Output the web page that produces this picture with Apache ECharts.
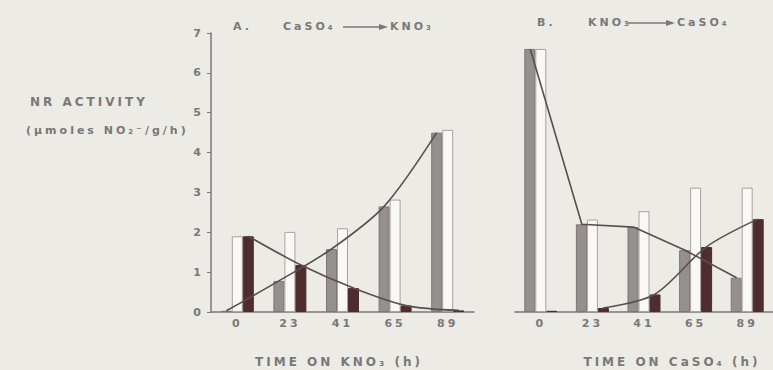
<!DOCTYPE html>
<html><head><meta charset="utf-8">
<script src="https://cdn.jsdelivr.net/npm/echarts@6/dist/echarts.min.js"></script>
<style>
html,body{margin:0;padding:0;background:#ecebe5}
#c{width:773px;height:370px}
#c text{letter-spacing:3px}
</style></head><body><div id="c"></div>
<script>
// ---- data ----
const categories = ['0', '23', '41', '65', '89'];
const yTicks = [0, 1, 2, 3, 4, 5, 6, 7];
// Panel A: CaSO4 -> KNO3
const aGray  = [0.03, 0.78, 1.58, 2.65, 4.50];
const aWhite = [1.90, 2.01, 2.10, 2.82, 4.57];
const aDark  = [1.90, 1.18, 0.60, 0.16, 0.04];
// Panel B: KNO3 -> CaSO4
const bGray  = [6.60, 2.20, 2.13, 1.55, 0.86];
const bWhite = [6.60, 2.32, 2.53, 3.12, 3.12];
const bDark  = [0.03, 0.10, 0.44, 1.63, 2.33];
const bDarkCurveStart = 1;

const titleA = ['A.', 'CaSO₄', 'KNO₃'];
const titleB = ['B.', 'KNO₃', 'CaSO₄'];
const xNameA = 'TIME ON KNO₃ (h)';
const xNameB = 'TIME ON CaSO₄ (h)';
const yName1 = 'NR ACTIVITY';
const yName2 = '(µmoles NO₂⁻/g/h)';

// ---- layout / style ----
const chart = echarts.init(document.getElementById('c'), null, {renderer: 'svg'});
const FONT = 'DejaVu Sans';
const TXT = '#7a7878';
const AX = '#7a7878';
const GRAY = '#958f8e', WHITE = '#f9f8f4', DARK = '#4f2c2e', LINE = '#5a4e4e';
const BW = 11;
const gA = {left: 211, top: 33, width: 263, height: 279};
const gB = {left: 515, top: 33, width: 269, height: 279};
const offA = BW / (gA.width / categories.length);
const offB = BW / (gB.width / categories.length);

function catAxis(gi) {
  return {type: 'category', gridIndex: gi, data: categories,
    axisLine: {show: true, onZero: false, lineStyle: {color: AX, width: 1.5}},
    axisTick: {show: false},
    axisLabel: {color: TXT, fontFamily: FONT, fontSize: 11, fontWeight: 'bold', margin: 6}};
}
function valX(gi) {
  return {type: 'value', gridIndex: gi, min: -0.5, max: categories.length - 0.5, show: false,
    axisLine: {onZero: false}};
}
function barS(name, data, xi, yi, color, border) {
  return {type: 'bar', name, data, xAxisIndex: xi, yAxisIndex: yi, barWidth: BW, barGap: '0%',
    itemStyle: {color, borderColor: border, borderWidth: 1}, z: 2, silent: true};
}
function lineS(vals, off, xi, yi, smooth, start) {
  const pts = [];
  for (let i = start || 0; i < vals.length; i++) pts.push([i + off, vals[i]]);
  return {type: 'line', data: pts, xAxisIndex: xi, yAxisIndex: yi, smooth, showSymbol: false,
    lineStyle: {color: LINE, width: 1.6}, z: 5, silent: true};
}
function txt(x, y, s, align, size) {
  return {type: 'text', x, y, style: {text: s, fill: TXT, font: 'bold ' + (size || 11) + 'px "' + FONT + '"',
    textAlign: align || 'left', textVerticalAlign: 'middle'}};
}
function arrow(x1, x2, y) {
  return [
    {type: 'line', shape: {x1, y1: y, x2: x2 - 7, y2: y}, style: {stroke: TXT, lineWidth: 1.3}},
    {type: 'polygon', shape: {points: [[x2 - 9, y - 3], [x2, y], [x2 - 9, y + 3]]}, style: {fill: TXT}}
  ];
}

const option = {
  backgroundColor: '#ecebe5',
  animation: false,
  grid: [gA, gB],
  xAxis: [catAxis(0), valX(0), catAxis(1), valX(1)],
  yAxis: [
    {type: 'value', gridIndex: 0, min: yTicks[0], max: yTicks[yTicks.length - 1], interval: 1,
      axisLine: {show: true, onZero: false, lineStyle: {color: AX, width: 1.5}},
      axisTick: {show: true, length: 4, lineStyle: {color: AX}},
      splitLine: {show: false},
      axisLabel: {color: TXT, fontFamily: FONT, fontSize: 11, fontWeight: 'bold', margin: 7}},
    {type: 'value', gridIndex: 1, min: yTicks[0], max: yTicks[yTicks.length - 1], interval: 1, show: false,
      axisLine: {onZero: false}, splitLine: {show: false}}
  ],
  series: [
    barS('A gray', aGray, 0, 0, GRAY, '#7d7675'),
    barS('A white', aWhite, 0, 0, WHITE, '#a8a2a0'),
    barS('A dark', aDark, 0, 0, DARK, DARK),
    barS('B gray', bGray, 2, 1, GRAY, '#7d7675'),
    barS('B white', bWhite, 2, 1, WHITE, '#a8a2a0'),
    barS('B dark', bDark, 2, 1, DARK, DARK),
    lineS(aGray, -offA, 1, 0, 0.3),
    lineS(aDark, offA, 1, 0, 0.3),
    lineS(bGray, -offB, 3, 1, false),
    lineS(bDark, offB, 3, 1, 0.3, bDarkCurveStart)
  ],
  graphic: [
    txt(233, 26, titleA[0]), txt(283, 26, titleA[1]), ...arrow(343, 388, 27), txt(390, 26, titleA[2]),
    txt(537, 22, titleB[0]), txt(588, 22, titleB[1]), ...arrow(628, 675, 23), txt(677, 22, titleB[2]),
    txt(30, 102, yName1, 'left', 12), txt(26, 130, yName2),
    txt(339, 362, xNameA, 'center', 12), txt(672, 362, xNameB, 'center', 12)
  ]
};
chart.setOption(option);
</script></body></html>
